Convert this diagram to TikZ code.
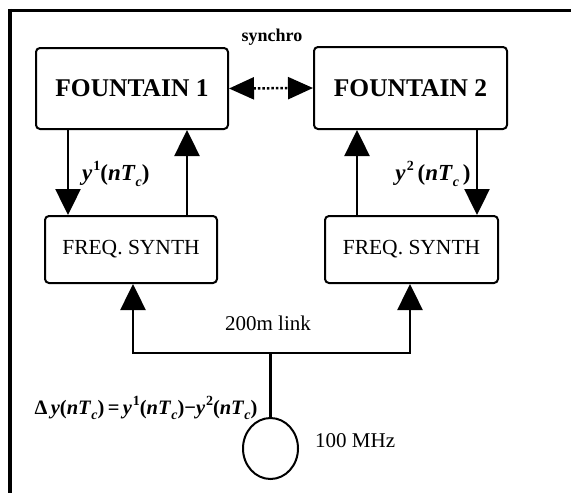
\documentclass[tikz,border=0pt]{standalone}
\usepackage{fontspec}
\setmainfont{Liberation Serif}
\usetikzlibrary{arrows.meta,shapes.geometric}
\newcommand{\sbi}[1]{\textbf{\textit{#1}}}
\newcommand{\upx}[1]{\raisebox{0.42em}{\fontsize{14}{14}\selectfont\textbf{#1}}}
\newcommand{\dnx}[1]{\raisebox{-0.25em}{\fontsize{14}{14}\selectfont\textbf{\textit{#1}}}}
\newcommand{\yn}[1]{\sbi{y}\kern0.04em\upx{#1}\textbf{(}\sbi{nT}\dnx{c}\textbf{)}}
\begin{document}
\begin{tikzpicture}[x=1pt,y=-1pt,
  box/.style={draw,line width=2pt,rounded corners=4pt,inner sep=0pt},
  arr/.style={line width=2.5pt,-{Triangle[width=25pt,length=26pt]}},
  ln/.style={line width=2.5pt},
  lbl/.style={inner sep=0pt,font=\fontsize{21}{21}\selectfont},
  mlbl/.style={inner sep=0pt,font=\fontsize{22}{22}\selectfont}]
\useasboundingbox (0,0) rectangle (571,493);
% frame (top and left edges)
\draw[line width=3.5pt] (8,10.5) -- (571,10.5);
\draw[line width=3.5pt] (10,8.75) -- (10,493);
% blocks
\node[box,minimum width=192pt,minimum height=81pt,font=\bfseries\fontsize{25.5}{25.5}\selectfont] (f1) at (132,88.5) {FOUNTAIN 1};
\node[box,minimum width=193pt,minimum height=82pt,font=\bfseries\fontsize{25.5}{25.5}\selectfont] (f2) at (410.5,88) {FOUNTAIN 2};
\node[box,minimum width=172pt,minimum height=67pt,font=\fontsize{21.5}{21.5}\selectfont] (s1) at (131,249.5) {FREQ. SYNTH};
\node[box,minimum width=173pt,minimum height=67pt,font=\fontsize{21.5}{21.5}\selectfont] (s2) at (411.5,249.5) {FREQ. SYNTH};
\node[draw,ellipse,line width=2pt,minimum width=55pt,minimum height=61pt,inner sep=0pt] (osc) at (270.5,448.5) {};
% x positions of the vertical connectors
\coordinate (a1) at (68,0);
\coordinate (a2) at (187,0);
\coordinate (a3) at (357,0);
\coordinate (a4) at (477,0);
\coordinate (b1) at (133,0);
\coordinate (b2) at (410,0);
\coordinate (j) at (270.5,353);
% fountain <-> synth
\draw[arr] (f1.south -| a1) -- (s1.north -| a1);
\draw[arr] (s1.north -| a2) -- (f1.south -| a2);
\draw[arr] (s2.north -| a3) -- (f2.south -| a3);
\draw[arr] (f2.south -| a4) -- (s2.north -| a4);
% synchro
\draw[line width=2.5pt,dotted,{Triangle[width=22pt,length=25pt]}-{Triangle[width=22pt,length=25pt]}] (f1.east) -- (f2.west);
% link
\draw[ln] (osc.north) -- (j);
\draw[arr] (j) -| (s1.south -| b1);
\draw[arr] (j) -| (s2.south -| b2);
% labels
\node[lbl,font=\bfseries\fontsize{18}{18}\selectfont] (syn) at (272,37) {synchro};
\node[mlbl,anchor=west,font=\fontsize{23}{23}\selectfont] (l1) at (82,174) {\yn{1}};
\node[mlbl,font=\fontsize{23}{23}\selectfont] (l2) at (433,174) {\sbi{y}\kern0.05em\upx{2}\,\textbf{(}\sbi{nT}\dnx{c}\,\textbf{)}};
\node[lbl] (link) at (268,323) {200m link};
\node[lbl,anchor=west] (mhz) at (315,441) {100 MHz};
\node[mlbl,font=\fontsize{20.5}{20.5}\selectfont] (dy) at (146,408) {\textbf{Δ}\,\sbi{y}\textbf{(}\sbi{nT}\dnx{c}\textbf{)}\,\textbf{=}\,\yn{1}\textbf{−}\yn{2}};
\end{tikzpicture}
\end{document}
